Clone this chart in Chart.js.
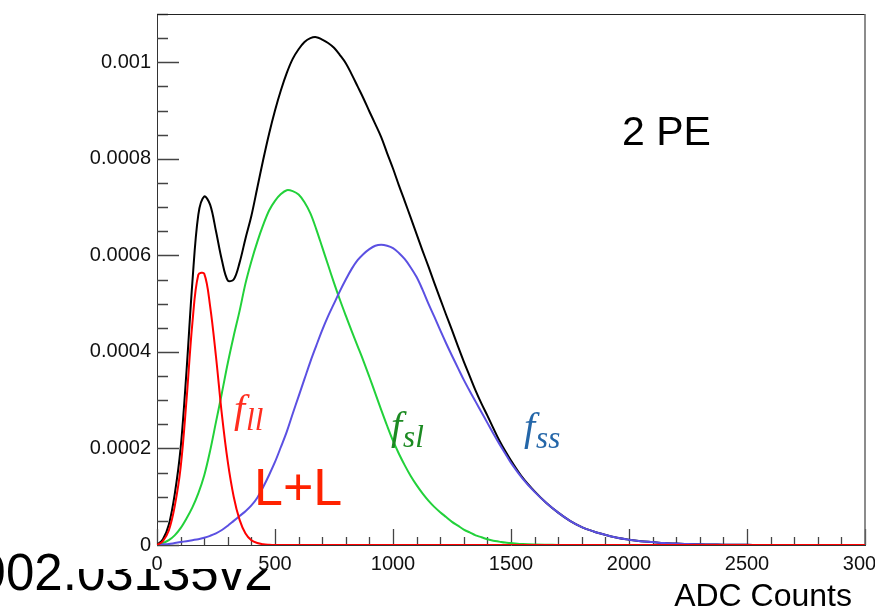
<!DOCTYPE html>
<html>
<head>
<meta charset="utf-8">
<title>2 PE ADC spectrum</title>
<script src="https://cdn.jsdelivr.net/npm/chart.js@4.4.1/dist/chart.umd.min.js"></script>
<style>
  html, body { margin: 0; padding: 0; background: #fff; }
  #wrap { width: 875px; height: 611px; }
</style>
</head>
<body>
<div id="wrap"><canvas id="myChart" width="875" height="611"></canvas></div>
<script>
// ADC bins: 25 wide up to 1500, 50 wide above
const adc = [0, 25, 50, 75, 100, 125, 150, 175, 200, 225, 250, 275, 300, 325, 350, 375, 400, 425, 450, 475, 500, 525, 550, 575, 600,
  625, 650, 675, 700, 725, 750, 775, 800, 825, 850, 875, 900, 925, 950, 975, 1000, 1025, 1050, 1075, 1100,
  1125, 1150, 1175, 1200, 1225, 1250, 1275, 1300, 1325, 1350, 1375, 1400, 1425, 1450, 1475, 1500,
  1550, 1600, 1650, 1700, 1750, 1800, 1850, 1900, 1950, 2000, 2050, 2100, 2150, 2200, 2250, 2300, 2350, 2400, 2450, 2500,
  2550, 2600, 2650, 2700, 2750, 2800, 2850, 2900, 2950, 3000];

// densities in units of 1e-4
const total = [0, 0.12, 0.42, 1.05, 2.0, 3.6, 5.45, 6.84, 7.22, 7.05, 6.5, 5.9, 5.48, 5.5, 5.85, 6.35, 6.82, 7.4, 7.98, 8.52, 9.0, 9.42, 9.78, 10.07, 10.27,
  10.42, 10.5, 10.52, 10.47, 10.4, 10.3, 10.15, 9.98, 9.75, 9.5, 9.25, 8.98, 8.72, 8.45, 8.12, 7.8, 7.45, 7.12, 6.78, 6.44,
  6.1, 5.77, 5.43, 5.1, 4.77, 4.45, 4.12, 3.8, 3.5, 3.2, 2.93, 2.68, 2.42, 2.17, 1.95, 1.75,
  1.39, 1.11, 0.87, 0.67, 0.5, 0.37, 0.28, 0.21, 0.15, 0.11, 0.08, 0.06, 0.04, 0.03, 0.02, 0.015, 0.01, 0.007, 0.005, 0.003,
  0.002, null, null, null, null, null, null, null, null, null];
const fll = [0, 0.08, 0.3, 0.8, 1.6, 3.0, 4.6, 5.6, 5.62, 4.95, 3.9, 2.7, 1.72, 1.0, 0.52, 0.24, 0.1, 0.04, 0.015, 0.005, 0, 0, 0, 0, 0,
  0, 0, 0, 0, 0, 0, 0, 0, 0, 0, 0, 0, 0, 0, 0, 0, 0, 0, 0, 0,
  0, 0, 0, 0, 0, 0, 0, 0, 0, 0, 0, 0, 0, 0, 0, 0,
  0, 0, 0, 0, 0, 0, 0, 0, 0, 0, 0, 0, 0, 0, 0, 0, 0, 0, 0, 0,
  0, 0, 0, 0, 0, 0, 0, 0, 0, 0];
const fsl = [0, 0.04, 0.1, 0.2, 0.35, 0.55, 0.78, 1.07, 1.44, 1.95, 2.55, 3.15, 3.77, 4.33, 4.85, 5.42, 5.88, 6.28, 6.63, 6.93, 7.13, 7.27, 7.35, 7.33, 7.26,
  7.1, 6.87, 6.54, 6.17, 5.8, 5.43, 5.08, 4.75, 4.43, 4.12, 3.81, 3.48, 3.14, 2.8, 2.47, 2.16, 1.89, 1.65, 1.43, 1.24,
  1.07, 0.92, 0.79, 0.68, 0.58, 0.48, 0.4, 0.32, 0.26, 0.2, 0.16, 0.12, 0.09, 0.07, 0.05, 0.04,
  0.02, 0.01, 0.005, 0.002, 0, null, null, null, null, null, null, null, null, null, null, null, null, null, null, null,
  null, null, null, null, null, null, null, null, null, null];
const fss = [0, 0.01, 0.02, 0.04, 0.06, 0.08, 0.1, 0.12, 0.15, 0.19, 0.24, 0.31, 0.4, 0.5, 0.6, 0.7, 0.82, 0.98, 1.2, 1.45, 1.72, 2.03, 2.35, 2.72, 3.08,
  3.44, 3.8, 4.13, 4.45, 4.74, 5.0, 5.26, 5.5, 5.72, 5.9, 6.03, 6.13, 6.2, 6.22, 6.2, 6.15, 6.05, 5.92, 5.75, 5.55,
  5.29, 5.0, 4.73, 4.45, 4.18, 3.92, 3.67, 3.42, 3.19, 2.97, 2.75, 2.53, 2.31, 2.1, 1.9, 1.7,
  1.37, 1.1, 0.87, 0.67, 0.5, 0.37, 0.28, 0.21, 0.15, 0.11, 0.08, 0.06, 0.04, 0.03, 0.02, 0.015, 0.01, 0.007, 0.005, 0.003,
  0.002, null, null, null, null, null, null, null, null, null];

const UNIT = 1e-4;
const xMajor = 500, yMajor = 0.0002;

function points(arr) {
  return adc.map((x, i) => ({ x: x, y: arr[i] == null ? null : arr[i] * UNIT }));
}

function curve(label, arr, color, order) {
  return {
    label: label,
    data: points(arr),
    borderColor: color,
    borderWidth: 2,
    pointRadius: 0,
    fill: false,
    tension: 0.35,
    order: order
  };
}

const sans = '"Liberation Sans", Arial, Helvetica, sans-serif';
const serif = '"Liberation Serif", "Times New Roman", serif';

function isMajor(v, step) {
  const k = Math.round(v / step);
  return Math.abs(v - k * step) < step * 1e-6;
}

// f with italic subscript, ROOT TLatex style
function subLabel(ctx, x, y, main, sub, color) {
  ctx.fillStyle = color;
  ctx.textAlign = 'left';
  ctx.textBaseline = 'alphabetic';
  ctx.font = 'italic 40px ' + serif;
  ctx.fillText(main, x, y);
  const w = ctx.measureText(main).width;
  ctx.font = 'italic 31px ' + serif;
  ctx.fillText(sub, x + w + 1, y + 8);
}

// no extra room for the end labels; the last one runs off the canvas
function noEndPadding(s) {
  s.paddingLeft = 0;
  s.paddingRight = 0;
  s.paddingTop = 0;
  s.paddingBottom = 0;
}

const decorations = {
  id: 'decorations',
  beforeDraw(chart) {
    const ctx = chart.ctx;
    // arXiv id stamp, partly hidden under the pad
    ctx.save();
    ctx.beginPath();
    ctx.rect(0, 0, 77, 611);
    ctx.rect(77, 569, 800, 42);
    ctx.clip();
    ctx.font = '51px ' + sans;
    ctx.fillStyle = '#000';
    ctx.textBaseline = 'alphabetic';
    const pre = ctx.measureText('19').width;
    ctx.fillText('1902.03135v2', 6 - pre, 590);
    ctx.restore();
  },
  beforeDatasetsDraw(chart) {
    const ctx = chart.ctx;
    const a = chart.chartArea;
    const xs = chart.scales.x, ys = chart.scales.y;
    ctx.save();
    ctx.strokeStyle = '#444';
    ctx.lineWidth = 1.3;
    ctx.beginPath();
    ys.ticks.forEach(t => {
      const py = Math.round(ys.getPixelForValue(t.value)) + 0.5;
      const len = isMajor(t.value, yMajor) ? 22 : 11;
      ctx.moveTo(a.left, py);
      ctx.lineTo(a.left + len, py);
    });
    xs.ticks.forEach(t => {
      const px = Math.round(xs.getPixelForValue(t.value)) + 0.5;
      const len = isMajor(t.value, xMajor) ? 16 : 8;
      ctx.moveTo(px, a.bottom);
      ctx.lineTo(px, a.bottom - len);
    });
    ctx.stroke();
    // pad frame: top and right
    ctx.strokeStyle = '#222';
    ctx.lineWidth = 1;
    ctx.beginPath();
    ctx.moveTo(a.left, a.top + 0.5);
    ctx.lineTo(a.right, a.top + 0.5);
    ctx.stroke();
    ctx.strokeStyle = '#666';
    ctx.lineWidth = 1.5;
    ctx.beginPath();
    ctx.moveTo(a.right, a.top);
    ctx.lineTo(a.right, a.bottom);
    ctx.stroke();
    ctx.restore();
  },
  afterDatasetsDraw(chart) {
    const ctx = chart.ctx;
    ctx.save();
    ctx.textBaseline = 'alphabetic';
    ctx.textAlign = 'left';
    ctx.fillStyle = '#000';
    ctx.font = '41px ' + sans;
    ctx.fillText('2 PE', 622, 145);
    ctx.fillStyle = '#ff2200';
    ctx.font = '52px ' + sans;
    ctx.fillText('L+L', 254, 505);
    subLabel(ctx, 234, 422, 'f', 'll', '#ff2d1f');
    subLabel(ctx, 391, 439, 'f', 'sl', '#1c8a22');
    subLabel(ctx, 524, 440, 'f', 'ss', '#2466a8');
    ctx.fillStyle = '#000';
    ctx.textAlign = 'right';
    ctx.font = '32px ' + sans;
    ctx.fillText('ADC Counts', 852, 606);
    ctx.restore();
  }
};

const ctx = document.getElementById('myChart').getContext('2d');
new Chart(ctx, {
  type: 'line',
  data: {
    datasets: [
      curve('total', total, '#000000', 4),
      curve('f_sl', fsl, '#22d13a', 3),
      curve('f_ss', fss, '#5b50e2', 2),
      curve('f_ll', fll, '#ff0000', 1)
    ]
  },
  options: {
    responsive: false,
    animation: false,
    devicePixelRatio: 1,
    events: [],
    layout: { padding: { left: 0, right: 10, top: 14, bottom: 0 } },
    plugins: { legend: { display: false }, tooltip: { enabled: false } },
    scales: {
      x: {
        type: 'linear',
        min: 0,
        max: 3000,
        grid: { display: false, drawTicks: false },
        border: { display: true, color: '#333', width: 1 },
        ticks: {
          stepSize: 100,
          autoSkip: false,
          maxRotation: 0,
          padding: 7,
          color: '#111',
          font: { family: sans, size: 20 },
          callback: v => isMajor(v, xMajor) ? String(Math.round(v)) : ''
        },
        afterFit: s => { s.height = 66; noEndPadding(s); }
      },
      y: {
        type: 'linear',
        min: 0,
        max: 0.0011,
        grid: { display: false, drawTicks: false },
        border: { display: true, color: '#333', width: 1 },
        ticks: {
          stepSize: 0.00005,
          autoSkip: false,
          padding: 6,
          color: '#111',
          font: { family: sans, size: 20 },
          callback: v => {
            if (!isMajor(v, yMajor)) return '';
            const k = Math.round(v / yMajor);
            return k === 0 ? '0' : String(+(k * yMajor).toFixed(4));
          }
        },
        afterFit: s => { s.width = 157; noEndPadding(s); }
      }
    }
  },
  plugins: [decorations]
});
</script>
</body>
</html>
